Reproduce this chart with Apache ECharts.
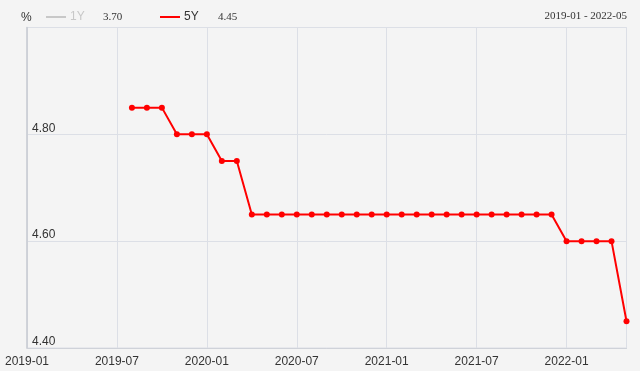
<!DOCTYPE html>
<html><head><meta charset="utf-8">
<script src="https://cdn.jsdelivr.net/npm/echarts@6/dist/echarts.min.js"></script>
<style>html,body{margin:0;padding:0;background:#f4f4f4}#c{width:640px;height:371px}</style>
</head><body><div id="c"></div>
<script>
// Months from 2019-01 to 2022-05
const months = [
 '2019-01','2019-02','2019-03','2019-04','2019-05','2019-06','2019-07','2019-08','2019-09','2019-10','2019-11','2019-12',
 '2020-01','2020-02','2020-03','2020-04','2020-05','2020-06','2020-07','2020-08','2020-09','2020-10','2020-11','2020-12',
 '2021-01','2021-02','2021-03','2021-04','2021-05','2021-06','2021-07','2021-08','2021-09','2021-10','2021-11','2021-12',
 '2022-01','2022-02','2022-03','2022-04','2022-05'];
const lpr5Y = [null,null,null,null,null,null,null,4.85,4.85,4.85,4.80,4.80,
 4.80,4.75,4.75,4.65,4.65,4.65,4.65,4.65,4.65,4.65,4.65,4.65,
 4.65,4.65,4.65,4.65,4.65,4.65,4.65,4.65,4.65,4.65,4.65,4.65,
 4.60,4.60,4.60,4.60,4.45];
const lpr1Y = [null,null,null,null,null,null,null,4.25,4.20,4.20,4.15,4.15,
 4.15,4.05,4.05,3.85,3.85,3.85,3.85,3.85,3.85,3.85,3.85,3.85,
 3.85,3.85,3.85,3.85,3.85,3.85,3.85,3.85,3.85,3.85,3.85,3.80,
 3.70,3.70,3.70,3.70,3.70];
const yTicks = {min: 4.40, max: 5.00, interval: 0.20};
const latest1Y = '3.70', latest5Y = '4.45';
const rangeText = months[0] + ' - ' + months[months.length - 1];

const chart = echarts.init(document.getElementById('c'), null, {renderer: 'canvas'});
const sans = 'Liberation Sans, Arial, sans-serif';
const serif = 'Liberation Serif, Times New Roman, serif';
chart.setOption({
  backgroundColor: '#f4f4f4',
  animation: false,
  grid: {left: 27, right: 13.5, top: 27.5, bottom: 23, show: true, borderColor: '#dcdfe6', borderWidth: 1, containLabel: false},
  legend: [
    {data: ['1Y'], left: 41, top: 6, icon: 'rect', itemWidth: 20, itemHeight: 2, itemGap: 4,
     selected: {'1Y': false}, inactiveColor: '#c8c8c8', textStyle: {fontFamily: sans, fontSize: 12, color: '#333', padding: [0, 0, 0, -1]}},
    {data: ['5Y'], left: 155, top: 6, icon: 'rect', itemWidth: 20, itemHeight: 2, itemGap: 4,
     textStyle: {fontFamily: sans, fontSize: 12, color: '#333', padding: [0, 0, 0, -1]}}
  ],
  graphic: [
    {type: 'text', left: 21, top: 12, style: {text: '%', font: '12px ' + sans, fill: '#333'}},
    {type: 'text', left: 103, top: 12, style: {text: latest1Y, font: '11px ' + serif, fill: '#333'}},
    {type: 'text', left: 218, top: 12, style: {text: latest5Y, font: '11px ' + serif, fill: '#333'}},
    {type: 'text', right: 13, top: 11, style: {text: rangeText, font: '11px ' + serif, fill: '#333'}}
  ],
  xAxis: {
    type: 'category', data: months, boundaryGap: false,
    axisLine: {lineStyle: {color: '#cfd2d9'}},
    axisTick: {show: false},
    axisLabel: {interval: 5, color: '#333', fontFamily: sans, fontSize: 12, margin: 8},
    splitLine: {show: true, interval: 5, lineStyle: {color: '#dcdfe6'}}
  },
  yAxis: {
    type: 'value', min: yTicks.min, max: yTicks.max, interval: yTicks.interval,
    axisLine: {show: true, lineStyle: {color: '#c8cbd2', width: 1.5}},
    axisTick: {show: false},
    axisLabel: {inside: true, showMaxLabel: false, verticalAlign: 'bottom', margin: 5, color: '#333', fontFamily: sans, fontSize: 12,
      formatter: v => v.toFixed(2)},
    splitLine: {lineStyle: {color: '#dcdfe6'}}
  },
  series: [
    {name: '1Y', type: 'line', data: lpr1Y, color: '#c8c8c8', symbol: 'circle', symbolSize: 6, lineStyle: {width: 2}},
    {name: '5Y', type: 'line', data: lpr5Y, color: '#ff0000', symbol: 'circle', symbolSize: 6, lineStyle: {width: 2, color: '#ff0000'}, itemStyle: {color: '#ff0000'}}
  ]
});
</script></body></html>
